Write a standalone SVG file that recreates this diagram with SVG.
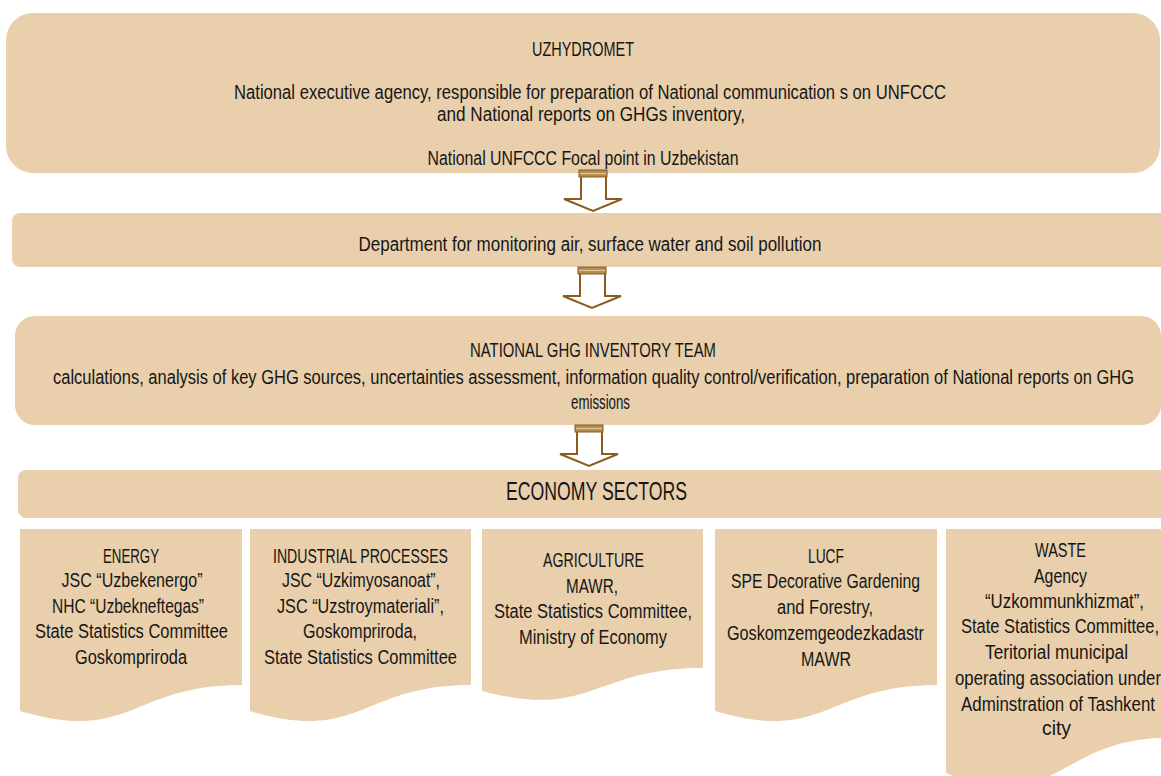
<svg xmlns="http://www.w3.org/2000/svg" width="1161" height="776" viewBox="0 0 1161 776">
  <style>
    .box { fill: #E9CFAB; }
    .t { font-family: "Liberation Sans", Arial, sans-serif; font-size: 20px; fill: #161616; text-anchor: middle; }
    .big { font-size: 26px; }
    .shaft { fill: #FFFFFF; stroke: #8A5D1E; stroke-width: 2; stroke-linejoin: miter; }
    .cap { fill: #B48A4F; stroke: #8A5D1E; stroke-width: 1; }
    .capline { stroke: #E2C79C; stroke-width: 1.2; }
  </style>
  <defs>
    <!-- block arrow with striped cap, drawn at origin (cap top-left) -->
    <g id="blockArrow">
      <path class="shaft" d="M2,7 V29 H-15 L14,41 L43,29 H27 V7"/>
      <rect class="cap" x="0" y="0" width="28" height="7"/>
      <line class="capline" x1="1" y1="3.5" x2="27" y2="3.5"/>
    </g>
  </defs>

  <rect width="1161" height="776" fill="#FFFFFF"/>

  <g id="uzhydromet">
    <rect class="box" x="6" y="13" width="1154" height="160" rx="27" ry="27"/>
    <text class="t" x="583" y="56" textLength="102" lengthAdjust="spacingAndGlyphs">UZHYDROMET</text>
    <text class="t" x="590" y="99" textLength="712" lengthAdjust="spacingAndGlyphs">National executive agency, responsible for preparation of National communication s on UNFCCC</text>
    <text class="t" x="591" y="121" textLength="308" lengthAdjust="spacingAndGlyphs">and National reports on GHGs inventory,</text>
    <text class="t" x="583" y="165" textLength="311" lengthAdjust="spacingAndGlyphs">National UNFCCC Focal point in Uzbekistan</text>
  </g>

  <g id="department">
    <rect class="box" x="12" y="213" width="1170" height="54" rx="8" ry="8"/>
    <text class="t" x="590" y="251" textLength="463" lengthAdjust="spacingAndGlyphs">Department for monitoring air, surface water and soil pollution</text>
  </g>

  <g id="inventory-team">
    <rect class="box" x="15" y="316" width="1146" height="109" rx="20" ry="20"/>
    <text class="t" x="593" y="357" textLength="246" lengthAdjust="spacingAndGlyphs">NATIONAL GHG INVENTORY TEAM</text>
    <text class="t" x="593.5" y="384" textLength="1081" lengthAdjust="spacingAndGlyphs">calculations, analysis of key GHG sources, uncertainties assessment, information quality control/verification, preparation of National reports on GHG</text>
    <text class="t" x="600.5" y="409" textLength="59" lengthAdjust="spacingAndGlyphs">emissions</text>
  </g>

  <g id="economy-sectors">
    <rect class="box" x="18" y="470" width="1170" height="48" rx="8" ry="8"/>
    <text class="t big" x="596.5" y="500" textLength="181" lengthAdjust="spacingAndGlyphs">ECONOMY SECTORS</text>
  </g>

  <g id="connectors">
    <use href="#blockArrow" x="579" y="170"/>
    <use href="#blockArrow" x="578" y="267"/>
    <use href="#blockArrow" x="575" y="425"/>
  </g>

  <g id="energy">
    <path class="box" d="M20,529 H242 V685 C131,685 131,744 20,711 Z"/>
    <text class="t" x="131" y="563" textLength="56" lengthAdjust="spacingAndGlyphs">ENERGY</text>
    <text class="t" x="132" y="587" textLength="141" lengthAdjust="spacingAndGlyphs">JSC “Uzbekenergo”</text>
    <text class="t" x="128" y="613" textLength="152" lengthAdjust="spacingAndGlyphs">NHC “Uzbekneftegas”</text>
    <text class="t" x="131.5" y="638" textLength="193" lengthAdjust="spacingAndGlyphs">State Statistics Committee</text>
    <text class="t" x="131" y="664" textLength="112" lengthAdjust="spacingAndGlyphs">Goskompriroda</text>
  </g>

  <g id="industrial-processes">
    <path class="box" d="M250,529 H471 V685 C360.5,685 360.5,744 250,711 Z"/>
    <text class="t" x="360.5" y="563" textLength="175" lengthAdjust="spacingAndGlyphs">INDUSTRIAL PROCESSES</text>
    <text class="t" x="361" y="587" textLength="158" lengthAdjust="spacingAndGlyphs">JSC “Uzkimyosanoat”,</text>
    <text class="t" x="360.5" y="613" textLength="167" lengthAdjust="spacingAndGlyphs">JSC “Uzstroymateriali”,</text>
    <text class="t" x="360" y="638" textLength="114" lengthAdjust="spacingAndGlyphs">Goskompriroda,</text>
    <text class="t" x="360.5" y="664" textLength="193" lengthAdjust="spacingAndGlyphs">State Statistics Committee</text>
  </g>

  <g id="agriculture">
    <path class="box" d="M482,529 H703 V668 C592.5,668 592.5,720 482,691 Z"/>
    <text class="t" x="593.5" y="567" textLength="101" lengthAdjust="spacingAndGlyphs">AGRICULTURE</text>
    <text class="t" x="592" y="593" textLength="52" lengthAdjust="spacingAndGlyphs">MAWR,</text>
    <text class="t" x="593" y="618" textLength="198" lengthAdjust="spacingAndGlyphs">State Statistics Committee,</text>
    <text class="t" x="593" y="644" textLength="148" lengthAdjust="spacingAndGlyphs">Ministry of Economy</text>
  </g>

  <g id="lucf">
    <path class="box" d="M715,529 H937 V685 C826,685 826,744 715,711 Z"/>
    <text class="t" x="826" y="563" textLength="36" lengthAdjust="spacingAndGlyphs">LUCF</text>
    <text class="t" x="825.5" y="588" textLength="189" lengthAdjust="spacingAndGlyphs">SPE Decorative Gardening</text>
    <text class="t" x="825" y="614" textLength="96" lengthAdjust="spacingAndGlyphs">and Forestry,</text>
    <text class="t" x="825.5" y="640" textLength="197" lengthAdjust="spacingAndGlyphs">Goskomzemgeodezkadastr</text>
    <text class="t" x="826" y="666" textLength="50" lengthAdjust="spacingAndGlyphs">MAWR</text>
  </g>

  <g id="waste">
    <path class="box" d="M946,529 H1168 V738 C1057,738 1057,818 946,773 Z"/>
    <text class="t" x="1060.5" y="557" textLength="51" lengthAdjust="spacingAndGlyphs">WASTE</text>
    <text class="t" x="1060.5" y="583" textLength="53" lengthAdjust="spacingAndGlyphs">Agency</text>
    <text class="t" x="1064.5" y="608" textLength="159" lengthAdjust="spacingAndGlyphs">“Uzkommunkhizmat”,</text>
    <text class="t" x="1060" y="633" textLength="198" lengthAdjust="spacingAndGlyphs">State Statistics Committee,</text>
    <text class="t" x="1056.5" y="659" textLength="143" lengthAdjust="spacingAndGlyphs">Teritorial municipal</text>
    <text class="t" x="1058" y="685" textLength="206" lengthAdjust="spacingAndGlyphs">operating association under</text>
    <text class="t" x="1058" y="711" textLength="194" lengthAdjust="spacingAndGlyphs">Adminstration of Tashkent</text>
    <text class="t" x="1056.5" y="735" textLength="29" lengthAdjust="spacingAndGlyphs">city</text>
  </g>
</svg>
